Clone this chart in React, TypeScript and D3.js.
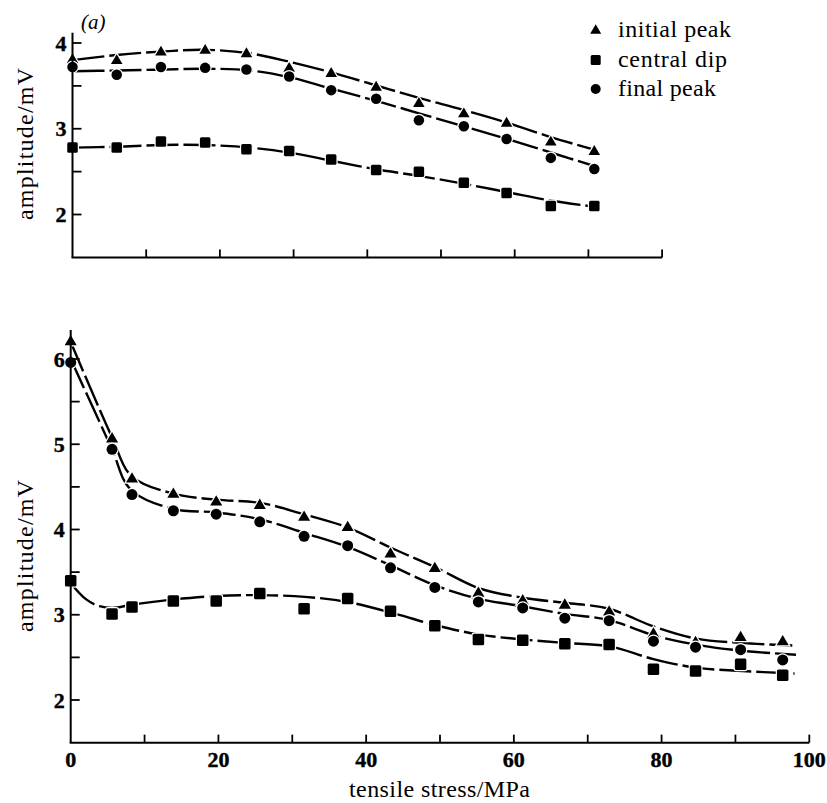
import React from "react";
import * as d3 from "d3";

// ---------- data: panel (a), top ----------
const topX = [0, 6, 12, 18, 23.6, 29.4, 35.1, 41.2, 47, 53.1, 58.9, 64.9, 70.8];
const topInitial = [3.81, 3.8, 3.9, 3.92, 3.88, 3.71, 3.65, 3.49, 3.3, 3.18, 3.07, 2.85, 2.74];
const topCentral = [2.78, 2.78, 2.85, 2.84, 2.76, 2.74, 2.64, 2.52, 2.5, 2.37, 2.25, 2.1, 2.1];
const topFinal = [3.72, 3.63, 3.72, 3.71, 3.69, 3.61, 3.45, 3.35, 3.1, 3.03, 2.88, 2.66, 2.53];

// fitted curves
const topFitX = [0, 6, 12, 18, 24, 29.5, 35, 41, 47, 53, 59, 65, 71];
const topFitInitial = [3.8, 3.86, 3.9, 3.92, 3.88, 3.78, 3.66, 3.51, 3.36, 3.22, 3.07, 2.9, 2.75];
const topFitCentral = [2.78, 2.79, 2.81, 2.81, 2.78, 2.72, 2.63, 2.53, 2.45, 2.36, 2.26, 2.16, 2.09];
const topFitFinal = [3.67, 3.68, 3.69, 3.7, 3.68, 3.6, 3.47, 3.33, 3.18, 3.03, 2.88, 2.72, 2.56];

// ---------- data: bottom panel ----------
const botX = [0, 5.6, 8.3, 13.9, 19.7, 25.6, 31.6, 37.5, 43.3, 49.3, 55.2, 61.2, 66.9, 72.9, 78.9, 84.6, 90.7, 96.4];
const botInitial = [6.21, 5.07, 4.6, 4.42, 4.33, 4.29, 4.15, 4.03, 3.72, 3.55, 3.26, 3.17, 3.12, 3.04, 2.78, 2.68, 2.74, 2.69];
const botCentral = [3.4, 3.01, 3.09, 3.16, 3.16, 3.25, 3.07, 3.19, 3.04, 2.87, 2.71, 2.7, 2.66, 2.65, 2.36, 2.34, 2.42, 2.29];
const botFinal = [5.96, 4.94, 4.41, 4.22, 4.18, 4.09, 3.92, 3.81, 3.55, 3.32, 3.15, 3.08, 2.96, 2.93, 2.69, 2.62, 2.59, 2.47];

const botFitInitialX = [0, 5.6, 8.2, 13.9, 19.7, 25.8, 31.5, 37.6, 43.5, 49.3, 55.3, 61.2, 66.9, 72.9, 79, 84.7, 90.7, 97.7];
const botFitInitial = [6.2, 5.08, 4.63, 4.42, 4.35, 4.31, 4.18, 4.02, 3.78, 3.56, 3.31, 3.2, 3.14, 3.07, 2.86, 2.72, 2.67, 2.64];
const botFitFinalX = [0, 5.5, 8.1, 13.9, 19.7, 25.6, 31.6, 37.4, 43.3, 49.2, 55.1, 61.1, 66.9, 72.8, 78.9, 84.6, 90.6, 98.2];
const botFitFinal = [6.0, 4.96, 4.47, 4.24, 4.2, 4.12, 3.96, 3.8, 3.58, 3.35, 3.19, 3.1, 3.01, 2.94, 2.76, 2.65, 2.58, 2.53];
const botFitCentralX = [0, 2.1, 3.9, 5.7, 8.4, 14, 19.8, 25.5, 31.7, 37.5, 44, 49.3, 55.1, 61.2, 66.8, 72.9, 78.9, 84.6, 90.9, 98];
const botFitCentral = [3.37, 3.18, 3.1, 3.08, 3.12, 3.18, 3.22, 3.23, 3.21, 3.15, 3.01, 2.88, 2.77, 2.71, 2.67, 2.63, 2.48, 2.38, 2.34, 2.31];

// ---------- ticks & labels ----------
const topYTicksMajor = [2, 3, 4];
const topYTicksMinor = [2.5, 3.5];
const topXTicks = [10, 20, 30, 40, 50, 60, 70, 80];
const botYTicksMajor = [2, 3, 4, 5, 6];
const botYTicksMinor = [2.5, 3.5, 4.5, 5.5];
const botXTicksMajor = [20, 40, 60, 80, 100];
const botXTicksMinor = [10, 30, 50, 70, 90];
const botXLabels = [0, 20, 40, 60, 80, 100];
const seriesNames = ["initial peak", "central dip", "final peak"];
const seriesShapes = ["triangle", "square", "circle"];

const FONT = "Liberation Serif, DejaVu Serif, serif";

function Marker({ shape, cx, cy, s }: { shape: string; cx: number; cy: number; s: number }) {
  const common = { fill: "#000", stroke: "#fff", strokeWidth: 2.5, paintOrder: "stroke" as any };
  if (shape === "triangle") {
    const h = s * 0.9;
    const w = s * 1.05;
    const p = `M${cx},${cy - h * 0.6} L${cx + w / 2},${cy + h * 0.4} L${cx - w / 2},${cy + h * 0.4} Z`;
    return <path d={p} {...common} />;
  }
  if (shape === "square") {
    return <rect x={cx - s / 2} y={cy - s / 2} width={s} height={s} rx={1.5} {...common} />;
  }
  return <circle cx={cx} cy={cy} r={s / 2} {...common} />;
}

const numStyle: any = { fontFamily: FONT, fontWeight: "bold", fontSize: "22px" };

function Panel({ xs, ys, xAxisEnd, yAxisTop, yMajor, yMinor, series, fits, msize }: any) {
  const line = (fx: number[], fy: number[]) =>
    d3.line<number>().x((_, i) => xs(fx[i])).y((d) => ys(d)).curve(d3.curveCatmullRom.alpha(0.5))(fy) || "";
  const x0 = xs(0);
  const yb = ys(1.5);
  return (
    <g>
      {fits.map((f: any, i: number) => (
        <path key={"f" + i} d={line(f.x, f.y)} fill="none" stroke="#000" strokeWidth={2.4} strokeDasharray="32 5" />
      ))}
      {series.map((s: any, i: number) =>
        s.y.map((v: number, j: number) => (
          <Marker key={`m${i}-${j}`} shape={s.shape} cx={xs(s.x[j])} cy={ys(v)} s={msize[s.shape]} />
        ))
      )}
      <line x1={x0} x2={x0} y1={ys(yAxisTop)} y2={yb} stroke="#000" strokeWidth={2} />
      <line x1={x0 - 1} x2={xs(xAxisEnd)} y1={yb} y2={yb} stroke="#000" strokeWidth={2} />
      {yMajor.concat(yMinor).map((t: number) => (
        <line key={"yt" + t} x1={x0} x2={x0 + 9} y1={ys(t)} y2={ys(t)} stroke="#000" strokeWidth={1.8} />
      ))}
      {yMajor.map((t: number) => (
        <text key={"yl" + t} x={x0 - 6} y={ys(t) + 7.5} textAnchor="end" fontSize="22px" fontWeight="bold"
          stroke="#000" strokeWidth={0.4} style={numStyle}>
          {t}
        </text>
      ))}
    </g>
  );
}

export default function App() {
  const xTop = d3.scaleLinear().domain([0, 100]).range([72.5, 72.5 + 737]);
  const yTop = d3.scaleLinear().domain([2, 4]).range([214.5, 43]);
  const xBot = d3.scaleLinear().domain([0, 100]).range([70.7, 809.3]);
  const yBot = d3.scaleLinear().domain([2, 6]).range([700, 359]);

  const topSeries = [
    { x: topX, y: topInitial, shape: "triangle" },
    { x: topX, y: topFinal, shape: "circle" },
    { x: topX, y: topCentral, shape: "square" },
  ];
  const topFits = [
    { x: topFitX, y: topFitInitial },
    { x: topFitX, y: topFitFinal },
    { x: topFitX, y: topFitCentral },
  ];
  const botSeries = [
    { x: botX, y: botInitial, shape: "triangle" },
    { x: botX, y: botFinal, shape: "circle" },
    { x: botX, y: botCentral, shape: "square" },
  ];
  const botFits = [
    { x: botFitInitialX, y: botFitInitial },
    { x: botFitFinalX, y: botFitFinal },
    { x: botFitCentralX, y: botFitCentral },
  ];

  const ybT = yTop(1.5);
  const ybB = yBot(1.5);
  const legendY = [30, 60, 89];
  const legendLen = [113, 109, 98];
  const txt: any = { fontFamily: FONT, fontSize: "24px" };

  return (
    <svg width={827} height={803} viewBox="0 0 827 803"
      style={{ position: "absolute", left: 0, top: 0, background: "#fff", display: "block" }}>
      <rect x={0} y={0} width={827} height={803} fill="#fff" />
      <Panel xs={xTop} ys={yTop} xAxisEnd={80} yAxisTop={4.12} yMajor={topYTicksMajor} yMinor={topYTicksMinor}
        series={topSeries} fits={topFits} msize={{ triangle: 11, circle: 10.5, square: 10.5 }} />
      {topXTicks.map((t) => (
        <line key={"tx" + t} x1={xTop(t)} x2={xTop(t)} y1={ybT} y2={ybT - 8} stroke="#000" strokeWidth={1.8} />
      ))}
      <text x={81} y={29} fontSize="21px" style={{ fontFamily: FONT, fontStyle: "italic", fontSize: "21px" }}>(a)</text>
      <text transform={`translate(33,144) rotate(-90)`} textAnchor="middle" fontSize="24px"
        style={txt} textLength={152} lengthAdjust="spacing">
        amplitude/mV
      </text>

      {seriesNames.map((n, i) => (
        <g key={n}>
          <Marker shape={seriesShapes[i]} cx={595.7} cy={legendY[i]} s={seriesShapes[i] === "triangle" ? 10.5 : 10} />
          <text x={618} y={legendY[i] + 6.5} fontSize="24px" style={txt} textLength={legendLen[i]} lengthAdjust="spacing">
            {n}
          </text>
        </g>
      ))}

      <Panel xs={xBot} ys={yBot} xAxisEnd={100} yAxisTop={6.34} yMajor={botYTicksMajor} yMinor={botYTicksMinor}
        series={botSeries} fits={botFits} msize={{ triangle: 11.5, circle: 11, square: 11.5 }} />
      {botXTicksMajor.concat(botXTicksMinor).map((t) => (
        <line key={"bx" + t} x1={xBot(t)} x2={xBot(t)} y1={ybB} y2={ybB - 8} stroke="#000" strokeWidth={1.8} />
      ))}
      {botXLabels.map((t) => (
        <text key={"bxl" + t} x={xBot(t)} y={767} textAnchor="middle" fontSize="22px" fontWeight="bold"
          stroke="#000" strokeWidth={0.4} style={numStyle}>
          {t}
        </text>
      ))}
      <text transform={`translate(33,556) rotate(-90)`} textAnchor="middle" fontSize="24px"
        style={txt} textLength={152} lengthAdjust="spacing">
        amplitude/mV
      </text>
      <text x={439.5} y={797} textAnchor="middle" fontSize="24px" style={txt} textLength={181} lengthAdjust="spacing">
        tensile stress/MPa
      </text>
    </svg>
  );
}
